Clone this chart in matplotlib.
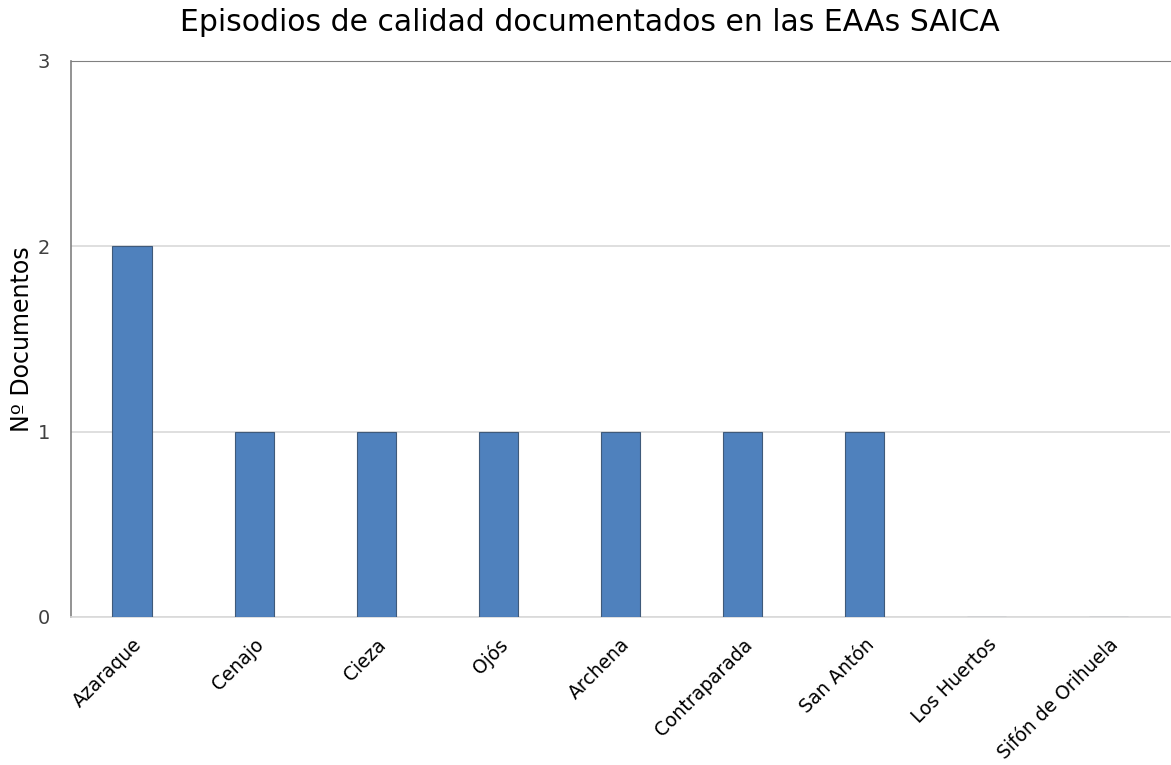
import matplotlib
matplotlib.use('Agg')
import matplotlib.pyplot as plt

estaciones = ['Azaraque', 'Cenajo', 'Cieza', 'Ojós', 'Archena', 'Contraparada',
              'San Antón', 'Los Huertos', 'Sifón de Orihuela']
documentos = [2, 1, 1, 1, 1, 1, 1, 0, 0]

plt.rcParams['font.family'] = ['DejaVu Sans']
fig = plt.figure(figsize=(11.71, 7.65), dpi=100)
ax = fig.add_axes([0.0606, 0.1935, 0.9384, 0.7268])

x = range(len(estaciones))
ax.bar(x, documentos, width=0.32, color='#4F81BD', edgecolor='#3F5A7A', linewidth=0.8, zorder=3)
ax.set_xlim(-0.5, len(estaciones) - 0.5)
ax.set_ylim(0, 3)
ax.set_yticks([0, 1, 2, 3])
ax.yaxis.grid(True, color='#D9D9D9', linewidth=1.2, zorder=0)
ax.set_xticks(list(x))
ax.set_xticklabels(estaciones, rotation=45, ha='right', rotation_mode='anchor', fontsize=13.5)
ax.tick_params(axis='y', labelsize=14, length=0, pad=15, colors='#404040')
ax.tick_params(axis='x', length=0, pad=13)
ax.spines['right'].set_visible(False)
ax.spines['top'].set_color('#808080')
ax.spines['left'].set_color('#808080')
ax.spines['left'].set_linewidth(1.2)
ax.spines['bottom'].set_color('#D9D9D9')
ax.spines['bottom'].set_linewidth(1.2)
ax.set_ylabel('Nº Documentos', fontsize=17, labelpad=3)
fig.suptitle('Episodios de calidad documentados en las EAAs SAICA', fontsize=21.5, x=0.504, y=0.99)
fig.savefig('out.png', dpi=100)
